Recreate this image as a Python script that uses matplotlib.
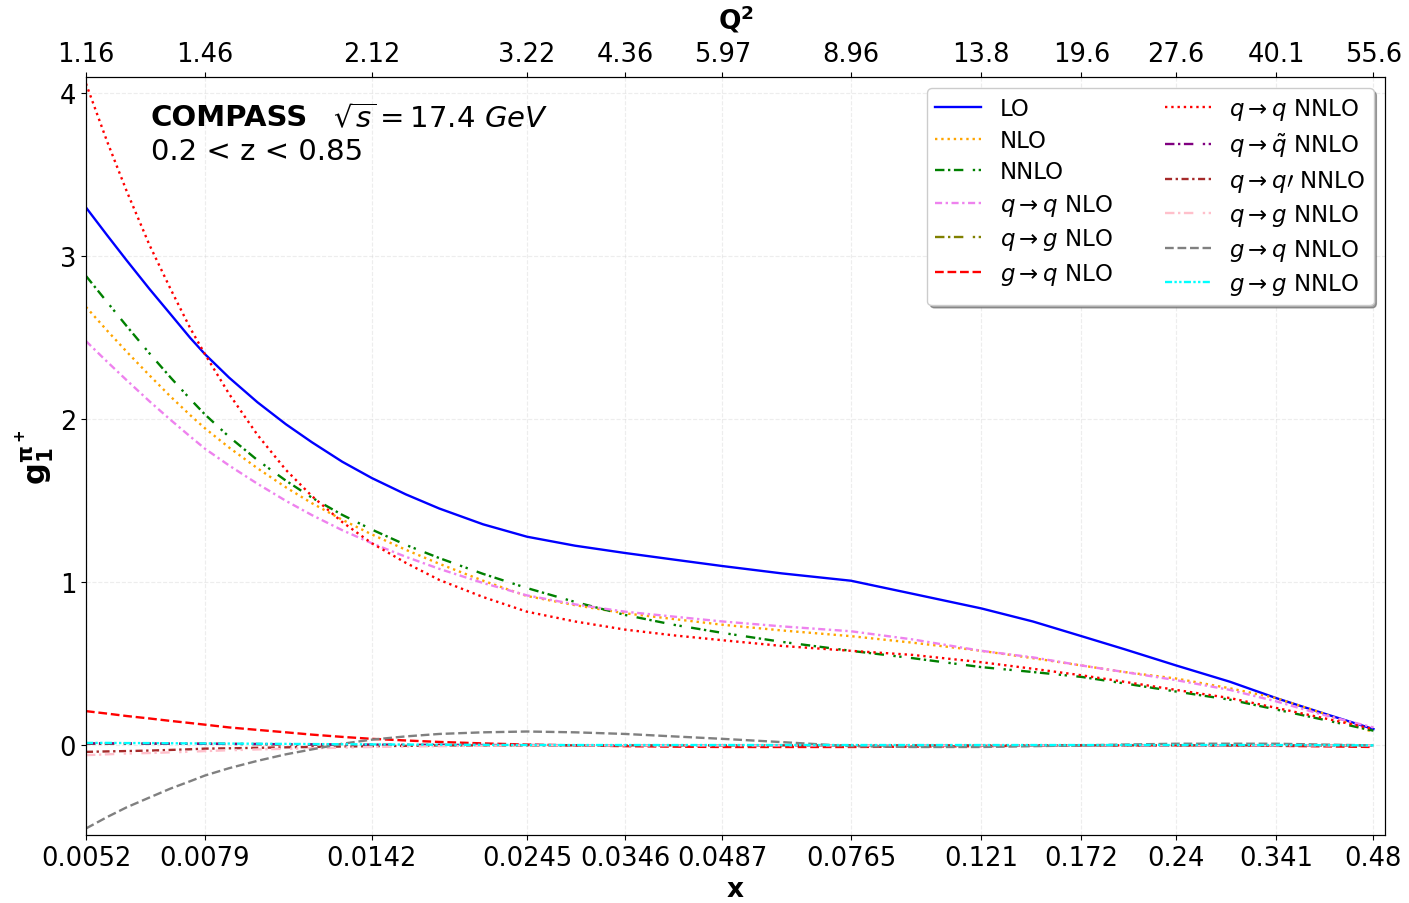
import matplotlib
matplotlib.use("Agg")
import matplotlib.pyplot as plt
from matplotlib.ticker import FixedLocator, FixedFormatter, NullLocator

# x grid (Bjorken x) and the matching Q^2 labels on top
x = [0.0052, 0.0056, 0.006, 0.0065, 0.007, 0.0075, 0.0079, 0.0086, 0.0095,
     0.0105, 0.0115, 0.0128, 0.0142, 0.016, 0.018, 0.021, 0.0245, 0.029,
     0.0346, 0.041, 0.0487, 0.06, 0.0765, 0.095, 0.121, 0.145, 0.172, 0.2,
     0.24, 0.29, 0.341, 0.4, 0.48]

x_ticks = [0.0052, 0.0079, 0.0142, 0.0245, 0.0346, 0.0487, 0.0765, 0.121,
           0.172, 0.24, 0.341, 0.48]
x_tick_labels = ['0.0052', '0.0079', '0.0142', '0.0245', '0.0346', '0.0487',
                 '0.0765', '0.121', '0.172', '0.24', '0.341', '0.48']
q2_tick_labels = ['1.16', '1.46', '2.12', '3.22', '4.36', '5.97', '8.96',
                  '13.8', '19.6', '27.6', '40.1', '55.6']

lo = [3.30, 3.13, 2.975, 2.80, 2.645, 2.50, 2.40, 2.256, 2.105, 1.97, 1.86, 1.74,
      1.64, 1.54, 1.453, 1.356, 1.28, 1.225, 1.18, 1.14, 1.10, 1.055, 1.01, 0.93,
      0.84, 0.76, 0.67, 0.59, 0.49, 0.39, 0.29, 0.20, 0.10]
nlo = [2.69, 2.545, 2.415, 2.27, 2.14, 2.026, 1.945, 1.827, 1.70, 1.583, 1.486,
       1.384, 1.294, 1.20, 1.114, 1.01, 0.916, 0.86, 0.81, 0.775, 0.74, 0.705,
       0.67, 0.63, 0.58, 0.535, 0.49, 0.45, 0.41, 0.35, 0.29, 0.20, 0.08]
nnlo = [2.88, 2.72, 2.572, 2.405, 2.257, 2.125, 2.03, 1.893, 1.75, 1.624, 1.52,
        1.414, 1.324, 1.23, 1.149, 1.052, 0.965, 0.88, 0.80, 0.74, 0.69, 0.635,
        0.58, 0.535, 0.48, 0.45, 0.42, 0.38, 0.33, 0.28, 0.22, 0.16, 0.09]
qq_nlo = [2.48, 2.354, 2.24, 2.111, 1.997, 1.895, 1.82, 1.717, 1.605, 1.50, 1.413,
          1.32, 1.24, 1.157, 1.083, 0.996, 0.92, 0.865, 0.82, 0.79, 0.76, 0.73,
          0.70, 0.65, 0.58, 0.54, 0.49, 0.45, 0.40, 0.34, 0.27, 0.19, 0.11]
qg_nlo = [0.01, 0.01, 0.01, 0.01, 0.01, 0.01, 0.01, 0.009, 0.008, 0.006, 0.005,
          0.004, 0.003, 0.002, 0.002, 0.001, 0.0, 0.0, 0.0, 0.0, 0.0, 0.0, 0.0,
          0.0, 0.0, 0.0, 0.0, 0.0, 0.0, 0.0, 0.0, 0.0, 0.0]
gq_nlo = [0.21, 0.195, 0.18, 0.165, 0.15, 0.137, 0.127, 0.11, 0.095, 0.08, 0.066,
          0.052, 0.04, 0.03, 0.021, 0.012, 0.005, 0.0, -0.005, -0.008, -0.01, -0.01,
          -0.01, -0.008, -0.005, -0.002, 0.0, 0.0, 0.0, 0.0, -0.003, -0.006, -0.01]
qq_nnlo = [4.06, 3.706, 3.40, 3.07, 2.80, 2.56, 2.40, 2.156, 1.905, 1.69, 1.53,
           1.37, 1.24, 1.12, 1.015, 0.91, 0.82, 0.76, 0.71, 0.675, 0.645, 0.61,
           0.58, 0.555, 0.51, 0.47, 0.43, 0.39, 0.34, 0.29, 0.23, 0.17, 0.10]
qqbar_nnlo = [0.012, 0.012, 0.012, 0.011, 0.011, 0.01, 0.01, 0.009, 0.008, 0.007,
              0.006, 0.005, 0.004, 0.003, 0.003, 0.002, 0.002, 0.001, 0.001, 0.0,
              0.0, 0.0, 0.0, 0.0, 0.0, 0.0, 0.0, 0.0, 0.0, 0.0, 0.0, 0.0, 0.0]
qqp_nnlo = [-0.04, -0.037, -0.035, -0.032, -0.028, -0.024, -0.02, -0.018, -0.015,
            -0.012, -0.01, -0.007, -0.005, -0.003, 0.0, 0.0, 0.0, 0.0, 0.0, 0.0,
            0.0, 0.0, 0.0, 0.0, 0.0, 0.0, 0.0, 0.0, 0.0, 0.0, 0.0, 0.0, 0.0]
qg_nnlo = [-0.06, -0.055, -0.05, -0.047, -0.043, -0.039, -0.035, -0.03, -0.025,
           -0.021, -0.018, -0.014, -0.01, -0.007, -0.005, -0.002, 0.0, 0.0, 0.0,
           0.0, 0.0, 0.0, 0.0, 0.0, 0.0, 0.0, 0.0, 0.0, 0.0, 0.0, 0.0, 0.0, 0.0]
gq_nnlo = [-0.51, -0.44, -0.38, -0.32, -0.265, -0.22, -0.185, -0.14, -0.095,
           -0.055, -0.025, 0.01, 0.035, 0.055, 0.07, 0.08, 0.085, 0.08, 0.07,
           0.055, 0.04, 0.02, -0.005, -0.01, -0.01, -0.005, 0.0, 0.005, 0.01,
           0.01, 0.01, 0.005, 0.0]
gg_nnlo = [0.015, 0.015, 0.014, 0.014, 0.013, 0.012, 0.012, 0.011, 0.01, 0.009,
           0.008, 0.007, 0.006, 0.005, 0.004, 0.003, 0.002, 0.002, 0.002, 0.002,
           0.002, 0.002, 0.002, 0.002, 0.002, 0.002, 0.002, 0.002, 0.002, 0.002,
           0.002, 0.001, 0.0]

# dash patterns
dash_dot_gap = (0, (4, 1.5, 1, 1.5, 4, 4, 1, 1.5, 1, 4))
dash_dot = (0, (3, 1.5, 1, 1.5))
dash_dot_dot = (0, (3, 1, 1, 1, 1, 1))

fig = plt.figure(figsize=(14.09, 9.04), dpi=100)
ax = fig.add_axes([0.061, 0.0752, 0.922, 0.8385])

lw = 1.7
ax.plot(x, lo, color='blue', ls='-', lw=lw, label='LO')
ax.plot(x, nlo, color='orange', ls=':', lw=lw, label='NLO')
ax.plot(x, nnlo, color='green', ls=dash_dot_gap, lw=lw, label='NNLO')
ax.plot(x, qq_nlo, color='violet', ls=dash_dot, lw=lw, label=r'$q \rightarrow q$ NLO')
ax.plot(x, qg_nlo, color='olive', ls=dash_dot_gap, lw=lw, label=r'$q \rightarrow g$ NLO')
ax.plot(x, gq_nlo, color='red', ls='--', lw=lw, label=r'$g \rightarrow q$ NLO')
ax.plot(x, qq_nnlo, color='red', ls=':', lw=lw, label=r'$q \rightarrow q$ NNLO')
ax.plot(x, qqbar_nnlo, color='purple', ls=dash_dot_gap, lw=lw, label=r'$q \rightarrow \tilde{q}$ NNLO')
ax.plot(x, qqp_nnlo, color='brown', ls=dash_dot, lw=lw, label=r'$q \rightarrow q\prime$ NNLO')
ax.plot(x, qg_nnlo, color='pink', ls=dash_dot_gap, lw=lw, label=r'$q \rightarrow g$ NNLO')
ax.plot(x, gq_nnlo, color='grey', ls='--', lw=lw, label=r'$g \rightarrow q$ NNLO')
ax.plot(x, gg_nnlo, color='cyan', ls=dash_dot_dot, lw=lw, label=r'$g \rightarrow g$ NNLO')

ax.set_xscale('log')
ax.set_xlim(0.0052, 0.5)
ax.set_ylim(-0.55, 4.1)
ax.xaxis.set_major_locator(FixedLocator(x_ticks))
ax.xaxis.set_major_formatter(FixedFormatter(x_tick_labels))
ax.xaxis.set_minor_locator(NullLocator())
ax.set_yticks([0, 1, 2, 3, 4])
ax.tick_params(labelsize=18.5)
ax.grid(True, ls='--', color='lightgrey', alpha=0.4)

ax.set_xlabel('x', fontsize=19, fontweight='bold', labelpad=4)
ax.set_ylabel(r'$\mathbf{g_1^{\pi^+}}$', fontsize=22, labelpad=2)

# top axis with Q^2
ax2 = ax.twiny()
ax2.set_xscale('log')
ax2.set_xlim(ax.get_xlim())
ax2.xaxis.set_major_locator(FixedLocator(x_ticks))
ax2.xaxis.set_major_formatter(FixedFormatter(q2_tick_labels))
ax2.xaxis.set_minor_locator(NullLocator())
ax2.tick_params(labelsize=18.5)
ax2.set_xlabel(r'$\mathbf{Q^2}$', fontsize=19, labelpad=9)

ax.text(0.05, 0.966, r'COMPASS', transform=ax.transAxes, fontsize=21,
        fontweight='bold', va='top', ha='left')
ax.text(0.19, 0.966, r'$\sqrt{s} = 17.4\ GeV$', transform=ax.transAxes,
        fontsize=21, va='top', ha='left')
ax.text(0.05, 0.921, '0.2 < z < 0.85', transform=ax.transAxes, fontsize=21,
        va='top', ha='left')

ax.legend(loc='upper right', ncol=2, fontsize=16.5, shadow=True, fancybox=True,
          handlelength=2.0, framealpha=1.0, columnspacing=2.3,
          labelspacing=0.37, borderpad=0.35)

fig.savefig('out.png', dpi=100)
